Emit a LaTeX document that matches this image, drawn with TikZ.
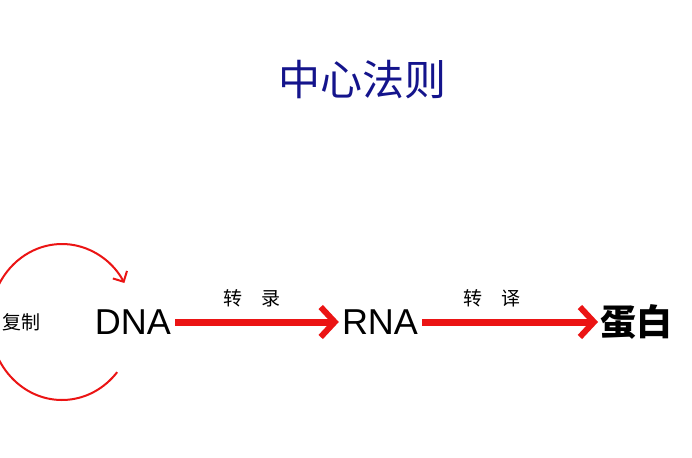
\documentclass[tikz,border=0pt]{standalone}
\usepackage{fontspec}
\setmainfont{Liberation Sans}
\newfontfamily\cjk{Noto Sans CJK SC}
\usetikzlibrary{arrows.meta}
\definecolor{arr}{RGB}{235,20,20}
\definecolor{navy}{RGB}{20,20,140}
\tikzset{bigarrow/.style={arr,line width=7pt,shorten <=3pt,shorten >=2pt,-{Straight Barb[length=14pt,width=30pt,line width=6pt]}},
lbl/.style={font=\cjk\fontsize{19}{19}\selectfont},
term/.style={font=\fontsize{36}{36}\selectfont,inner sep=1pt}}
\begin{document}
\begin{tikzpicture}[x=1pt,y=-1pt]
\useasboundingbox (0,0) rectangle (692,457);
\fill[white] (0,0) rectangle (692,457);
\node[navy,font=\cjk\fontsize{42}{42}\selectfont] (title) at (362,80) {中心法则};
\node[term] (dna) at (133,322) {DNA};
\node[term] (rna) at (380,322) {RNA};
\node[anchor=west,font=\cjk\bfseries\fontsize{36}{36}\selectfont,inner sep=0pt] (prot) at (600,322) {蛋白};
\node[anchor=west,font=\cjk\fontsize{19}{19}\selectfont,inner sep=0pt] (rep) at (2,322) {复制};
\draw[bigarrow] (dna.east) -- (rna.west);
\draw[bigarrow] (rna.east) -- (prot.west);
\node[lbl] (l1) at (252,298) {转\hspace{1em}录};
\node[lbl] (l2) at (492,298) {转\hspace{1em}译};
\coordinate (c) at (62,322);
\draw[arr,line width=2pt,-{Straight Barb[length=8pt,width=16pt,line width=2pt]}] ([shift={(-40:72 and -78)}]c) arc[start angle=-40,end angle=-330,x radius=72,y radius=-78];
\end{tikzpicture}
\end{document}
